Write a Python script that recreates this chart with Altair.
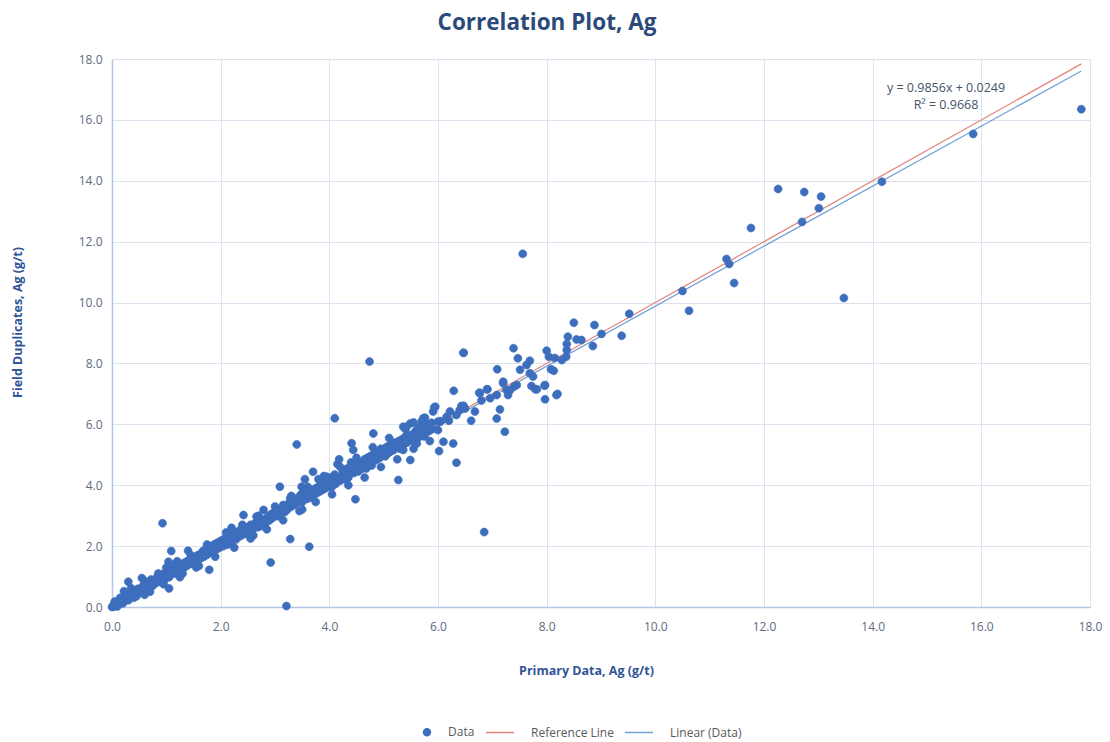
import altair as alt
import pandas as pd

# Scatter data: Primary (x) vs Field duplicates (y), Ag g/t
primary = [
 0.0,0.02,0.03,0.05,0.04,0.06,0.08,0.1,0.09,0.12,0.13,0.15,0.16,0.18,0.2,0.21,0.23,0.25,0.27,0.28,
 0.3,0.32,0.34,0.35,0.37,0.39,0.4,0.42,0.44,0.46,0.48,0.5,0.1,0.2,0.3,0.15,0.25,0.05,0.3,0.22,
 0.35,0.4,0.45,
 0.52,0.55,0.58,0.6,0.62,0.65,0.68,0.7,0.72,0.75,0.78,0.8,0.82,0.85,0.88,0.9,0.93,0.95,0.98,1.0,
 1.02,1.05,1.08,1.1,1.12,1.15,1.18,1.2,1.23,1.25,1.28,1.3,1.33,1.35,1.38,1.4,1.43,1.45,1.48,1.5,
 1.52,1.55,1.58,1.6,1.63,1.65,1.68,1.7,1.73,1.75,1.78,1.8,1.83,1.85,1.88,1.9,1.93,1.95,1.98,2.0,
 0.93,1.09,1.04,1.4,1.79,1.05,0.6,1.25,1.55,0.55,1.2,
 2.03,2.05,2.08,2.1,2.13,2.15,2.18,2.2,2.23,2.25,2.28,2.3,2.33,2.35,2.38,2.4,2.42,2.45,2.48,2.5,
 2.53,2.55,2.58,2.6,2.63,2.66,2.68,2.7,2.73,2.75,2.79,2.8,2.83,2.85,2.88,2.9,2.93,2.95,2.98,3.0,
 3.03,3.05,3.08,3.1,3.13,3.15,3.18,3.2,3.23,3.25,3.28,3.3,3.33,3.35,3.38,3.4,3.43,3.45,3.48,3.5,
 3.53,3.55,3.58,3.6,3.63,3.65,3.68,3.7,3.73,3.75,3.78,3.8,3.83,3.85,3.88,3.9,3.93,3.95,3.98,4.0,
 3.09,3.49,3.55,3.7,3.95,3.28,3.63,2.92,3.21,3.4,4.1,
 4.03,4.05,4.08,4.1,4.12,4.15,4.18,4.2,4.22,4.25,4.28,4.3,4.33,4.35,4.38,4.41,4.44,4.45,4.48,4.49,
 4.5,4.53,4.55,4.58,4.6,4.63,4.65,4.68,4.7,4.72,4.75,4.78,4.8,4.81,4.83,4.85,4.88,4.9,4.93,4.95,
 4.97,5.0,5.03,5.05,5.08,5.1,5.12,5.15,5.18,5.2,5.25,5.27,5.28,5.3,5.33,5.36,5.36,5.38,5.4,5.43,
 5.45,5.49,5.49,5.5,5.55,5.53,5.58,5.61,5.6,5.63,5.65,5.68,5.73,5.7,5.75,5.76,5.78,5.8,5.83,5.85,
 5.88,5.91,5.93,5.95,5.9,6.0,6.0,6.02,6.05,6.1,6.16,6.2,5.42,5.67,5.55,5.42,
 6.22,6.28,6.29,6.34,6.4,6.47,6.47,6.43,6.5,6.34,6.04,6.61,6.68,6.77,6.8,6.91,6.96,6.9,6.76,7.08,
 7.2,7.33,7.45,7.72,7.82,7.97,7.97,8.18,7.14,7.08,7.23,6.85,
 7.39,7.47,7.69,7.63,7.51,7.69,7.75,7.09,8.08,8.13,7.79,7.2,7.4,7.26,7.29,8.0,8.04,8.15,8.28,8.36,
 8.37,8.37,8.39,8.5,8.55,8.64,8.85,8.88,9.01,9.38,9.52,8.2,7.96,7.56,4.74,6.47,
 10.5,10.62,11.31,11.36,11.45,11.76,12.26,12.74,13.05,13.01,12.7,13.47,14.17,15.85,17.84,
 0.6,0.7,0.85,0.95,1.15,1.3,1.45,1.6,1.75,1.9,2.1,2.25,2.4,2.55,2.7,2.85,3.0,3.15,3.3,3.45,
 3.6,3.75,3.9,4.05,4.2,4.35,4.5,4.65,4.8,4.95,5.1,5.25,5.4,5.55,5.7,5.85,2.2,3.5,1.0,2.6,
 3.8,4.4,
]
duplicate = [
 0.0,0.03,0.01,0.06,0.1,0.04,0.09,0.07,0.14,0.11,0.18,0.13,0.2,0.16,0.25,0.19,0.28,0.22,0.33,0.26,
 0.36,0.3,0.4,0.33,0.45,0.37,0.5,0.4,0.55,0.44,0.6,0.48,0.02,0.12,0.22,0.3,0.42,0.18,0.83,0.52,
 0.62,0.3,0.35,
 0.6,0.5,0.72,0.58,0.68,0.8,0.63,0.75,0.9,0.7,0.85,0.78,0.95,0.82,1.0,0.86,0.97,1.1,0.92,1.05,
 1.15,0.98,1.2,1.08,1.25,1.1,1.3,1.18,1.35,1.22,1.4,1.28,1.45,1.32,1.5,1.38,1.55,1.42,1.6,1.48,
 1.65,1.52,1.7,1.56,1.75,1.62,1.85,1.66,1.9,1.72,1.95,1.78,2.0,1.82,2.05,1.87,2.1,1.92,2.15,1.97,
 2.75,1.84,1.49,1.85,1.22,0.61,0.4,0.98,1.3,0.95,1.5,
 2.2,2.0,2.12,2.3,2.05,2.2,2.35,2.15,2.28,2.45,2.22,2.38,2.3,2.52,2.35,2.45,3.02,2.4,2.6,2.48,
 2.55,2.7,2.5,2.62,2.75,2.97,2.62,2.78,2.65,2.85,3.19,2.75,2.9,2.8,2.98,2.85,3.05,2.92,3.1,3.0,
 3.15,2.98,3.2,3.05,3.25,3.35,3.12,3.3,3.2,3.4,3.57,3.3,3.45,3.35,3.55,3.42,3.6,3.5,3.7,3.45,
 3.62,3.75,3.55,3.68,3.58,3.8,3.65,3.85,3.7,3.9,3.75,3.95,3.8,4.0,3.85,4.05,3.9,4.15,3.95,4.1,
 3.95,3.95,4.2,4.44,4.28,2.23,1.98,1.46,0.03,5.34,6.2,
 4.25,3.95,4.2,4.35,4.05,4.69,4.85,4.15,4.3,4.45,4.2,4.38,4.55,4.25,4.48,5.38,5.16,4.4,3.54,4.74,
 4.6,4.45,4.7,4.52,4.75,4.6,4.85,4.55,4.9,4.7,4.95,4.65,5.0,5.7,4.8,5.05,4.85,5.1,4.9,5.2,
 5.0,5.15,4.95,5.25,5.05,5.3,5.1,5.35,5.15,5.4,5.25,4.17,5.45,5.2,5.5,5.92,5.16,5.35,5.6,5.4,
 5.65,6.03,4.83,5.5,5.7,5.45,5.6,5.37,5.8,5.55,5.9,5.7,6.2,5.85,5.6,6.22,5.95,5.75,6.0,5.8,
 6.05,6.42,6.55,6.58,5.85,6.09,5.81,5.12,6.1,5.43,6.25,6.12,5.43,5.7,6.06,5.92,
 6.42,5.37,7.1,4.74,6.47,6.61,8.35,6.6,6.52,6.31,6.09,6.12,6.42,7.02,6.78,7.15,6.86,7.15,7.04,6.96,
 7.35,7.13,7.29,7.26,7.15,7.29,6.82,6.96,6.49,6.19,5.76,2.46,
 8.5,8.17,8.09,7.95,7.79,7.68,7.57,7.81,7.81,7.76,7.15,7.4,7.24,7.13,6.96,8.42,8.22,8.18,8.11,8.22,
 8.44,8.64,8.88,9.34,8.79,8.77,8.57,9.26,8.97,8.91,9.63,7.0,7.27,11.6,8.06,8.35,
 10.38,9.73,11.43,11.27,10.64,12.45,13.73,13.63,13.48,13.1,12.65,10.15,13.97,15.54,16.35,
 0.85,0.5,1.1,0.75,1.4,1.1,1.7,1.35,2.05,1.65,2.45,1.95,2.7,2.25,3.0,2.55,3.3,2.85,3.65,3.15,
 3.95,3.45,4.3,3.7,4.6,4.0,4.9,4.25,5.25,4.6,5.55,4.85,5.85,5.2,6.1,5.45,2.6,3.2,1.3,2.35,
 4.2,4.75,
]

series_names = ["Data", "Reference Line", "Linear (Data)"]
series_colors = ["#3D6EBD", "#E3827B", "#6E9FD6"]
line_x_start = [0.0, 0.0]
line_x_end = [17.84, 17.84]
slope = [1.0, 0.9856]
intercept = [0.0, 0.0249]
equation_lines = ["y = 0.9856x + 0.0249", "R\u00b2 = 0.9668"]
equation_x = [15.35, 15.35]
equation_y = [17.05, 16.5]
tick_values = [0, 2, 4, 6, 8, 10, 12, 14, 16, 18]

pts = pd.DataFrame({"x": primary, "y": duplicate, "series": "Data"})
lines = pd.DataFrame({
    "series": series_names[1:],
    "x0": line_x_start,
    "x1": line_x_end,
    "y0": [s * a + b for s, a, b in zip(slope, line_x_start, intercept)],
    "y1": [s * a + b for s, a, b in zip(slope, line_x_end, intercept)],
})
eq = pd.DataFrame({"x": equation_x, "y": equation_y, "t": equation_lines})

FONT = "Open Sans"
circle_path = "M -0.175 0 A 0.175 0.175 0 1 1 0.175 0 A 0.175 0.175 0 1 1 -0.175 0 Z"
line_path = "M -1.2 0 L 0.2 0"

xs = alt.Scale(domain=[0, 18], nice=False, zero=False)
ys = alt.Scale(domain=[0, 18], nice=False, zero=False)
col_scale = alt.Scale(domain=series_names, range=series_colors)
shape_scale = alt.Scale(domain=series_names, range=[circle_path, line_path, line_path])

leg = alt.Legend(title=None, orient="none", direction="horizontal",
                 legendX=294, legendY=652, symbolSize=1600, symbolStrokeWidth=1.5,
                 labelFont=FONT, labelFontSize=12, labelColor="#595959",
                 labelOffset=0, columnPadding=8)

x_axis = alt.Axis(title="Primary Data, Ag (g/t)", values=tick_values, format=".1f",
                  titleX=474, titleY=63, titleBaseline="middle", labelFlush=False)
y_axis = alt.Axis(title="Field Duplicates, Ag (g/t)", values=tick_values, format=".1f",
                  titleX=-95, titleY=263, titleAngle=-90, titleBaseline="middle",
                  titleAlign="center", labelFlush=False)

rules = alt.Chart(lines).mark_rule(strokeWidth=1.2).encode(
    x=alt.X("x0:Q", scale=xs, axis=x_axis),
    y=alt.Y("y0:Q", scale=ys, axis=y_axis),
    x2="x1:Q",
    y2="y1:Q",
    stroke=alt.Stroke("series:N", scale=col_scale, legend=leg),
)

points = alt.Chart(pts).mark_point(filled=True, size=2090, strokeWidth=0.6, opacity=1).encode(
    x=alt.X("x:Q", scale=xs, axis=x_axis),
    y=alt.Y("y:Q", scale=ys, axis=y_axis),
    fill=alt.Fill("series:N", scale=col_scale, legend=leg),
    stroke=alt.Stroke("series:N", scale=col_scale, legend=leg),
    shape=alt.Shape("series:N", scale=shape_scale, legend=leg),
)

text = alt.Chart(eq).mark_text(font=FONT, fontSize=12.5, color="#44546A", align="center",
                               baseline="middle").encode(
    x=alt.X("x:Q", scale=xs),
    y=alt.Y("y:Q", scale=ys),
    text="t:N",
)

chart = alt.layer(rules, points, text).properties(
    width=978, height=548,
    autosize=alt.AutoSizeParams(type="none"),
    padding={"left": 104, "top": 51, "right": 12, "bottom": 133},
    title=alt.TitleParams("Correlation Plot, Ag", font=FONT, fontSize=22.5, fontWeight="bold",
                          color="#2B4A7A", anchor="middle", dx=-54, offset=19),
).configure_view(stroke=None).configure_axis(
    grid=True, gridColor="#DCE3EF", gridWidth=1,
    domainColor="#B4C7E7", domainWidth=1.5, ticks=False,
    labelFont=FONT, labelFontSize=12, labelColor="#5D6B82", labelFontWeight="normal",
    titleFont=FONT, titleFontSize=12.5, titleFontWeight="bold", titleColor="#2F5597",
).configure_axisX(labelPadding=14).configure_axisY(labelPadding=10)

chart.save("out.html", embed_options={"renderer": "svg", "actions": False})
